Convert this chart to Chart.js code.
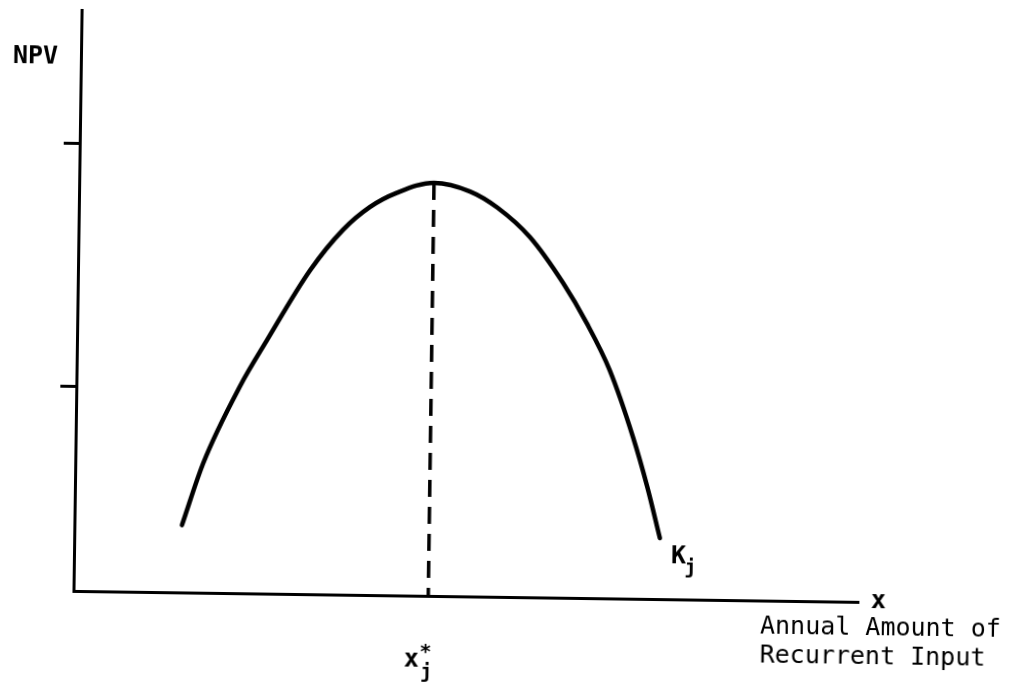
<!DOCTYPE html>
<html>
<head>
<meta charset="utf-8">
<title>NPV vs annual amount of recurrent input</title>
<script src="https://cdn.jsdelivr.net/npm/chart.js@4/dist/chart.umd.min.js"></script>
<style>
    html, body { margin: 0; padding: 0; background: #fff; overflow: hidden; }
    /* the scanned figure sits slightly tilted on the page */
    #npvChart { display: block; transform: rotate(0.8deg); }
</style>
</head>
<body>
<canvas id="npvChart" width="1023" height="684"></canvas>
<script>
    // NPV curve (x: annual input, y: NPV, arbitrary units 0-10)
    const curveX = [1.37, 1.63, 2.08, 2.42, 2.96, 3.37, 3.71, 4.05, 4.52, 4.98, 5.33, 5.75, 6.18, 6.49, 6.79, 7.10, 7.29, 7.46];
    const curveY = [1.16, 2.23, 3.55, 4.36, 5.58, 6.28, 6.68, 6.93, 7.11, 6.97, 6.70, 6.20, 5.42, 4.73, 3.93, 2.78, 1.93, 1.05];

    // optimum x*_j and its NPV
    const xStar = 4.52;
    const peakNpv = 7.11;

    // unlabelled tick marks on the NPV axis
    const yTickValues = [3.52, 7.71];

    const axisTitleY = 'NPV';
    const axisTitleX = ['Annual Amount of', 'Recurrent Input'];

    const mono = '"DejaVu Sans Mono", "Liberation Mono", monospace';

    // annotation text drawn on top of the chart
    const labelPlugin = {
        id: 'labels',
        afterDraw(chart) {
            const ctx = chart.ctx;
            const xs = chart.scales.x;
            const ys = chart.scales.y;
            ctx.save();
            ctx.fillStyle = '#000';
            ctx.textBaseline = 'alphabetic';

            ctx.font = 'bold 25px ' + mono;
            ctx.textAlign = 'left';
            ctx.fillText(axisTitleY, 9, 70);

            // "x" at the end of the horizontal axis
            ctx.textAlign = 'center';
            ctx.fillText('x', 882, 603);

            ctx.font = '25px ' + mono;
            ctx.textAlign = 'left';
            ctx.fillText(axisTitleX[0], 764, 630);
            ctx.fillText(axisTitleX[1], 764, 659);

            // K_j next to the end of the curve
            const kx = xs.getPixelForValue(curveX[curveX.length - 1]);
            const ky = ys.getPixelForValue(curveY[curveY.length - 1]);
            ctx.textAlign = 'center';
            ctx.font = 'bold 25px ' + mono;
            ctx.fillText('K', kx + 19, ky + 25);
            ctx.font = 'bold 20px ' + mono;
            ctx.fillText('j', kx + 31, ky + 35);

            // x*_j under the dashed line
            const sx = xs.getPixelForValue(xStar);
            ctx.font = 'bold 25px ' + mono;
            ctx.fillText('x', sx - 16, 668);
            ctx.font = 'bold 20px ' + mono;
            ctx.fillText('*', sx - 2, 659);
            ctx.fillText('j', sx - 1, 679);

            ctx.restore();
        }
    };

    const ctx = document.getElementById('npvChart').getContext('2d');

    new Chart(ctx, {
        type: 'scatter',
        data: {
            datasets: [
                {
                    label: 'NPV',
                    data: curveX.map((x, i) => ({ x: x, y: curveY[i] })),
                    showLine: true,
                    borderColor: '#000',
                    borderWidth: 4.5,
                    borderCapStyle: 'round',
                    borderJoinStyle: 'round',
                    pointRadius: 0,
                    cubicInterpolationMode: 'monotone',
                    fill: false
                },
                {
                    label: 'x*',
                    data: [{ x: xStar, y: peakNpv }, { x: xStar, y: 0 }],
                    showLine: true,
                    borderColor: '#000',
                    borderWidth: 3.5,
                    borderDash: [17, 10],
                    pointRadius: 0,
                    fill: false
                }
            ]
        },
        options: {
            responsive: false,
            animation: false,
            layout: { padding: { left: 61, top: 16, right: 161, bottom: 87 } },
            plugins: {
                legend: { display: false },
                tooltip: { enabled: false }
            },
            scales: {
                x: {
                    type: 'linear',
                    min: 0,
                    max: 10,
                    grid: { display: false },
                    ticks: { display: false },
                    border: { display: true, color: '#000', width: 3 },
                    afterFit: (s) => { s.height = 0; }
                },
                y: {
                    min: 0,
                    max: 10,
                    afterBuildTicks: (s) => { s.ticks = yTickValues.map(v => ({ value: v })); },
                    grid: {
                        display: true,
                        drawOnChartArea: false,
                        drawTicks: true,
                        tickLength: 16,
                        tickWidth: 3,
                        tickColor: '#000'
                    },
                    ticks: { display: false },
                    border: { display: true, color: '#000', width: 3 },
                    afterFit: (s) => { s.width = 16; }
                }
            }
        },
        plugins: [labelPlugin]
    });
</script>
</body>
</html>
